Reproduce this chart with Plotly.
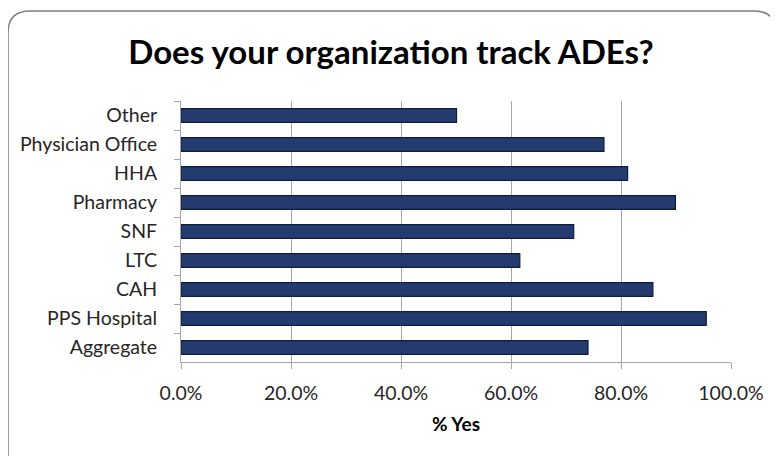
import plotly.graph_objects as go

categories = ["Other", "Physician Office", "HHA", "Pharmacy", "SNF", "LTC", "CAH", "PPS Hospital", "Aggregate"]
pct_yes = [0.501, 0.769, 0.812, 0.899, 0.714, 0.616, 0.858, 0.955, 0.740]
x_ticks = [0, 0.2, 0.4, 0.6, 0.8, 1.0]
x_tick_labels = ["0.0%", "20.0%", "40.0%", "60.0%", "80.0%", "100.0%"]
title_text = "Does your organization track ADEs?"
x_title = "% Yes"

# page body has an 8px margin, so the figure is drawn 8px in from the top-left
OFF = 8
W, H = 778 - OFF, 456 - OFF
L, R, T, B = 181 - OFF, 47, 101 - OFF, 94
PW, PH = W - L - R, H - T - B


def px(x):
    return (x - OFF - L) / PW


def py(y):
    return 1 - (y - OFF - T) / PH


# rounded border (screen pixel coords -> paper coords)
x0, y0, x1, y1, r = 8, 11, 776, 480, 22
path = (
    f"M {px(x0)},{py(y1)} L {px(x0)},{py(y0 + r)} "
    f"Q {px(x0)},{py(y0)} {px(x0 + r)},{py(y0)} "
    f"L {px(x1 - r)},{py(y0)} Q {px(x1)},{py(y0)} {px(x1)},{py(y0 + r)} "
    f"L {px(x1)},{py(y1)}"
)

fig = go.Figure(
    go.Bar(
        x=pct_yes,
        y=categories,
        orientation="h",
        marker=dict(color="#233B6E", line=dict(color="#0F1C3A", width=1.2)),
        hoverinfo="x+y",
    )
)

fig.update_layout(
    width=W,
    height=H,
    margin=dict(l=L, r=R, t=T, b=B, pad=0),
    paper_bgcolor="white",
    plot_bgcolor="white",
    bargap=0.52,
    showlegend=False,
    font=dict(family="Lato", color="#262626"),
    title=dict(
        text=f"<b>{title_text}</b>",
        x=px(391),
        xref="paper",
        xanchor="center",
        y=1 - (52 - OFF) / H,
        yref="container",
        yanchor="middle",
        font=dict(family="Lato", size=33, color="#000000"),
    ),
    shapes=[
        dict(
            type="path",
            path=path,
            xref="paper",
            yref="paper",
            line=dict(color="#7F7F7F", width=1.5),
            layer="below",
        )
    ],
)

fig.update_xaxes(
    range=[0, 1.0],
    tickvals=x_ticks,
    ticktext=x_tick_labels,
    showgrid=True,
    gridcolor="#A6A6A6",
    gridwidth=1,
    showline=True,
    linecolor="#A6A6A6",
    linewidth=1,
    ticks="outside",
    ticklen=6,
    tickcolor="#A6A6A6",
    tickfont=dict(size=19.5, color="#262626"),
    ticklabelstandoff=8,
    zeroline=False,
    title=dict(text=f"<b>{x_title}</b>", font=dict(size=19, color="#000000"), standoff=14),
    fixedrange=True,
)

fig.update_yaxes(
    autorange="reversed",
    showgrid=False,
    showline=True,
    linecolor="#A6A6A6",
    linewidth=1,
    ticks="outside",
    ticklen=6,
    tickcolor="#A6A6A6",
    tickson="boundaries",
    tickfont=dict(size=19.5, color="#262626"),
    ticklabelstandoff=19,
    fixedrange=True,
)

fig.write_html("out.html")
